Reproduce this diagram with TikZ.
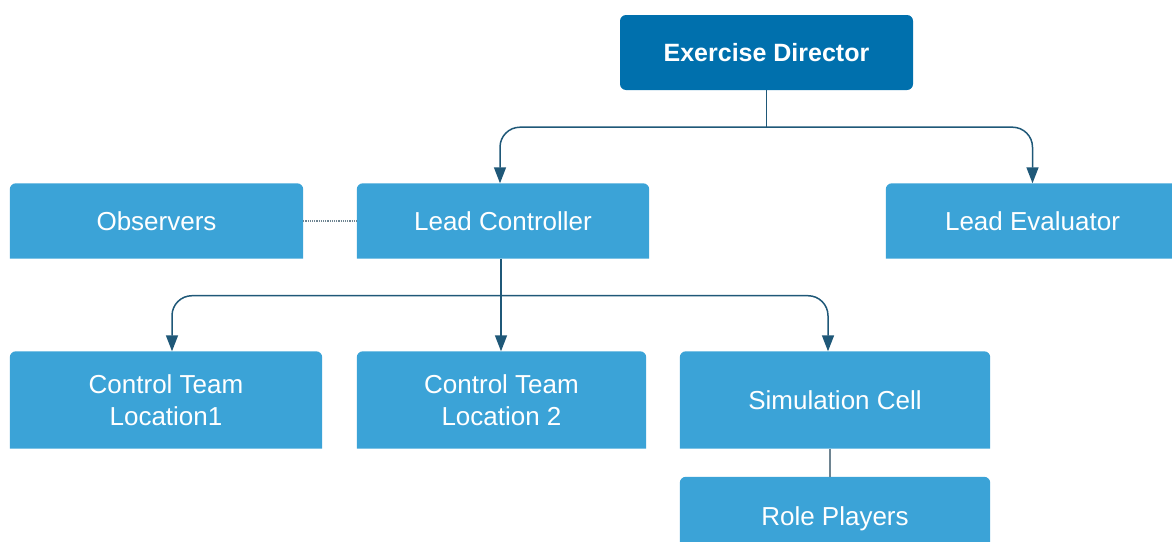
\documentclass[tikz,border=0pt]{standalone}
\usepackage{fontspec}
\setmainfont{Liberation Sans}
\usetikzlibrary{arrows.meta,backgrounds}

\definecolor{unitblue}{RGB}{59,163,215}
\definecolor{headblue}{RGB}{0,112,173}
\definecolor{linkblue}{RGB}{31,88,120}
\definecolor{dotgray}{RGB}{110,132,145}

\tikzset{
  unit/.style={inner sep=0pt, text=white, align=center,
    font=\fontsize{26}{32}\selectfont},
  head/.style={unit, fill=headblue, rounded corners=6pt,
    font=\fontsize{25}{28}\selectfont\bfseries},
  stem/.style={draw=linkblue, line width=1.5pt},
  link/.style={stem, rounded corners=20pt},
  tip/.style={-{Triangle[width=12pt,length=16pt]}},
  tips/.style={{Triangle[width=12pt,length=16pt]}-{Triangle[width=12pt,length=16pt]}},
}

\begin{document}
\begin{tikzpicture}[x=1pt,y=-1pt]
  \useasboundingbox (0,0) rectangle (1172,541);
  \clip (0,0) rectangle (1172,541);

  % top of the tree
  \node[head, minimum width=293pt, minimum height=75pt] (director) at (766.5,52.5) {Exercise Director};

  % second row
  \node[unit, minimum width=293pt, minimum height=75pt] (observers) at (156.5,221) {Observers};
  \node[unit, minimum width=292pt, minimum height=75pt] (controller) at (503,221) {Lead Controller};
  \node[unit, minimum width=293pt, minimum height=75pt] (evaluator) at (1032.5,221) {Lead Evaluator};

  % third row
  \node[unit, minimum width=312pt, minimum height=97pt] (team1) at (166,400) {Control Team\\Location1};
  \node[unit, minimum width=289pt, minimum height=97pt] (team2) at (501.5,400) {Control Team\\Location 2};
  \node[unit, minimum width=310pt, minimum height=97pt] (simcell) at (835,400) {Simulation Cell};
  \node[unit, minimum width=310pt, minimum height=84pt] (players) at (835,519) {Role Players};

  % boxes with rounded tops only
  \begin{scope}[on background layer]
    \foreach \n in {observers,controller,evaluator,team1,team2,simcell,players}
      \fill[unitblue] (\n.south west) [rounded corners=6pt] -- (\n.north west)
        -- (\n.north east) [sharp corners] -- (\n.south east) -- cycle;
  \end{scope}

  % junction points of the bus lines
  \coordinate (topbus) at ([yshift=-37pt]director.south);
  \coordinate (lowbus) at ([xshift=-2pt,yshift=-37pt]controller.south);

  % connectors
  \draw[stem] (director.south) -- (topbus);
  \draw[link, tips] ([xshift=-3pt]controller.north) |- (topbus) -| (evaluator.north);
  \draw[stem, tip] ([xshift=-2pt]controller.south) -- ([xshift=-2pt]controller.south |- team2.north);
  \draw[link, tips] ([xshift=6pt]team1.north) |- (lowbus) -| ([xshift=-7pt]simcell.north);
  \draw[dotgray, densely dotted, line width=1.2pt] (observers.east) -- (controller.west);
  \draw[dotgray, line width=1.5pt] ([xshift=-5pt]simcell.south) -- ([xshift=-5pt]players.north);
\end{tikzpicture}
\end{document}
